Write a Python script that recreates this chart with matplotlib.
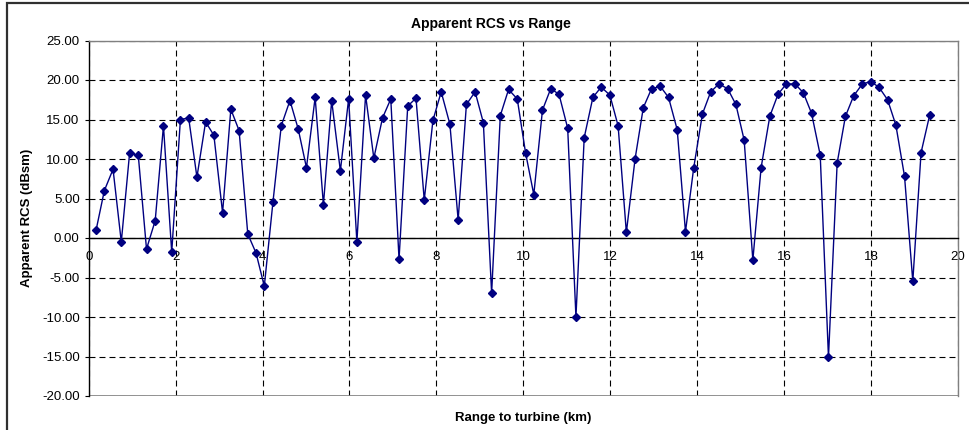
import matplotlib
matplotlib.use("Agg")
import matplotlib.pyplot as plt
from matplotlib.patches import Rectangle

plt.rcParams['font.family'] = ['Liberation Sans', 'DejaVu Sans']
plt.rcParams['lines.scale_dashes'] = False

# Range to turbine (km) for each sample
range_km = [
    0.17, 0.36, 0.56, 0.75, 0.94, 1.14, 1.33, 1.53, 1.72, 1.91,
    2.11, 2.30, 2.49, 2.69, 2.88, 3.08, 3.27, 3.46, 3.66, 3.85,
    4.04, 4.24, 4.43, 4.63, 4.82, 5.01, 5.21, 5.40, 5.59, 5.79,
    5.98, 6.17, 6.37, 6.56, 6.76, 6.95, 7.14, 7.34, 7.53, 7.72,
    7.92, 8.11, 8.31, 8.50, 8.69, 8.89, 9.08, 9.27, 9.47, 9.66,
    9.86, 10.05, 10.24, 10.44, 10.63, 10.82, 11.02, 11.21, 11.40, 11.60,
    11.79, 11.99, 12.18, 12.37, 12.57, 12.76, 12.95, 13.15, 13.34, 13.54,
    13.73, 13.92, 14.12, 14.31, 14.50, 14.70, 14.89, 15.08, 15.28, 15.47,
    15.67, 15.86, 16.05, 16.25, 16.44, 16.63, 16.83, 17.02, 17.22, 17.41,
    17.60, 17.80, 17.99, 18.18, 18.38, 18.57, 18.77, 18.96, 19.15, 19.35,
]

# Apparent RCS (dBsm)
rcs_dbsm = [
    1.0, 6.0, 8.7, -0.5, 10.7, 10.5, -1.4, 2.2, 14.2, -1.8,
    15.0, 15.2, 7.7, 14.7, 13.0, 3.2, 16.3, 13.6, 0.5, -1.9,
    -6.1, 4.6, 14.2, 17.4, 13.8, 8.9, 17.8, 4.2, 17.4, 8.5,
    17.6, -0.5, 18.1, 10.1, 15.2, 17.6, -2.7, 16.7, 17.7, 4.8,
    14.9, 18.5, 14.4, 2.3, 16.9, 18.5, 14.6, -7.0, 15.5, 18.8,
    17.6, 10.8, 5.5, 16.2, 18.9, 18.2, 13.9, -10.0, 12.7, 17.8,
    19.1, 18.1, 14.2, 0.7, 10.0, 16.5, 18.9, 19.2, 17.8, 13.7,
    0.8, 8.9, 15.7, 18.5, 19.5, 18.9, 16.9, 12.4, -2.8, 8.9,
    15.4, 18.2, 19.5, 19.5, 18.4, 15.8, 10.5, -15.1, 9.5, 15.4,
    18.0, 19.5, 19.8, 19.1, 17.5, 14.3, 7.8, -5.5, 10.8, 15.6,
]

x_ticks = [0, 2, 4, 6, 8, 10, 12, 14, 16, 18, 20]
y_ticks = [25, 20, 15, 10, 5, 0, -5, -10, -15, -20]

fig = plt.figure(figsize=(9.7, 4.3), dpi=100)
ax = fig.add_axes([88.7 / 970, 1 - 396 / 430, (958 - 88.7) / 970, (396 - 40.5) / 430])

ax.plot(range_km, rcs_dbsm, color='#000080', lw=1.0, marker='D', markersize=3.6,
        markerfacecolor='#000080', markeredgecolor='#000080', zorder=5)

ax.set_xlim(0, 20)
ax.set_ylim(-20, 25)
ax.set_xticks(x_ticks)
ax.set_yticks(y_ticks)
ax.set_yticklabels([f"{v:.2f}" for v in y_ticks])

# dashed black grid
ax.grid(True, color='black', linestyle=(0, (4.3, 2.9)), linewidth=0.8)
ax.set_axisbelow(True)

# plot area border in grey, left axis black, x axis crossing at zero
for side in ['top', 'right']:
    ax.spines[side].set_color('#808080')
    ax.spines[side].set_linewidth(1.0)
ax.spines['left'].set_color('black')
ax.spines['left'].set_linewidth(1.0)
ax.spines['bottom'].set_position(('data', 0))
ax.spines['bottom'].set_color('black')
ax.spines['bottom'].set_linewidth(1.0)
ax.axhline(-20, color='#808080', lw=1.2, zorder=1)

ax.tick_params(axis='y', direction='out', length=3, width=0.8, pad=3.5, labelsize=9.5)
ax.tick_params(axis='x', length=0, pad=9, labelsize=9.5)

ax.set_title("Apparent RCS vs Range", fontsize=10, fontweight='bold', x=(491 - 88.7) / 869.3, pad=9)
ax.set_xlabel("Range to turbine (km)", fontsize=9.5, fontweight='bold')
ax.xaxis.set_label_coords(0.5, -0.045)
ax.set_ylabel("Apparent RCS (dBsm)", fontsize=9.5, fontweight='bold')
ax.yaxis.set_label_coords((33 - 88.7) / 869.3, 0.5)

# outer chart frame
fig.patches.append(Rectangle((7 / 970, -0.2), 1.2, 1.2 - 3 / 430, transform=fig.transFigure,
                             fill=False, edgecolor='#303030', lw=1.6, clip_on=False))

fig.savefig("out.png", dpi=100)
